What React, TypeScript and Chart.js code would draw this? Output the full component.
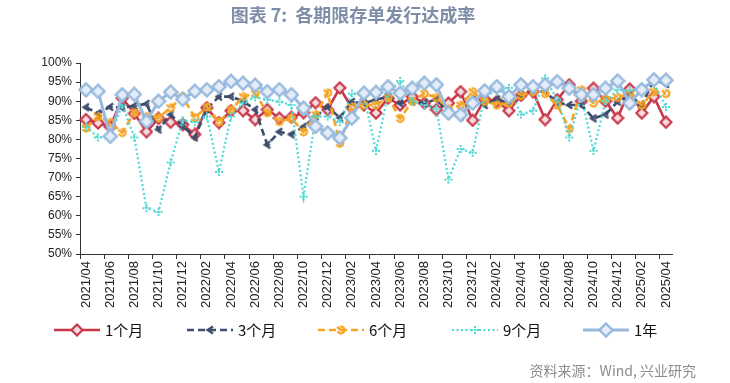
import React, { useEffect, useRef } from 'react';
import { Chart, registerables } from 'chart.js';

Chart.register(...registerables);

const labels = [
  '2021/04','2021/05','2021/06','2021/07','2021/08','2021/09','2021/10','2021/11','2021/12',
  '2022/01','2022/02','2022/03','2022/04','2022/05','2022/06','2022/07','2022/08','2022/09','2022/10','2022/11','2022/12',
  '2023/01','2023/02','2023/03','2023/04','2023/05','2023/06','2023/07','2023/08','2023/09','2023/10','2023/11','2023/12',
  '2024/01','2024/02','2024/03','2024/04','2024/05','2024/06','2024/07','2024/08','2024/09','2024/10','2024/11','2024/12',
  '2025/01','2025/02','2025/03','2025/04'
];

const m1 = [85.2,84.3,83.3,90.8,86.8,82.0,85.5,84.5,83.9,81.3,88.3,84.4,87.5,87.5,85.2,87.8,85.6,85.8,87.0,89.6,87.8,93.5,88.3,89.0,86.9,90.8,89.0,91.2,89.5,87.8,89.5,92.5,85.0,90.5,90.0,87.5,91.5,92.5,85.2,90.4,94.3,90.0,93.4,90.0,85.6,93.2,86.9,91.2,84.5];
const m3 = [88.4,86.8,88.5,88.3,88.8,89.3,82.6,86.5,83.5,80.5,88.0,91.2,91.2,90.0,87.8,78.6,82.0,81.3,83.3,86.0,88.5,85.7,89.8,89.5,90.4,91.2,89.5,89.9,89.5,90.5,87.0,86.0,90.4,89.0,90.5,89.5,91.5,92.5,92.5,89.6,89.0,89.0,85.5,86.5,89.9,91.5,89.0,95.6,94.5];
const m6 = [83.0,86.0,84.5,81.8,87.0,86.0,85.7,88.3,91.2,85.7,88.5,84.6,87.8,91.2,92.0,87.0,84.7,85.5,82.0,86.5,92.2,79.0,88.5,89.0,89.0,90.9,85.5,90.0,92.0,91.0,88.0,89.0,92.5,90.0,89.0,89.5,91.5,92.5,92.0,89.0,82.8,93.0,89.5,90.5,91.0,92.0,89.0,92.5,92.0];
const m9 = [83.3,80.5,80.7,89.0,80.5,62.0,61.0,74.0,85.0,84.5,86.0,71.5,86.0,89.6,91.0,90.4,89.9,89.0,65.0,86.0,86.0,84.5,92.0,91.5,77.0,92.0,95.3,90.0,89.0,88.0,69.5,77.5,76.5,91.5,92.5,93.5,86.5,87.5,96.0,90.4,80.5,91.2,77.0,90.0,93.0,92.8,93.8,94.7,88.5];
const y1 = [93.0,92.6,80.8,91.7,91.8,84.7,90.0,92.4,90.5,92.6,93.0,93.8,95.2,94.7,94.2,92.5,93.0,91.7,88.2,83.4,81.7,80.4,85.6,92.1,92.3,93.8,92.1,93.4,94.7,94.3,86.9,86.5,89.5,92.7,93.8,91.2,94.3,93.8,94.3,95.1,93.4,91.7,91.7,93.4,95.3,89.5,93.0,95.6,95.5];

const seriesNames = ['1个月', '3个月', '6个月', '9个月', '1年'];
const yTicks = [50, 55, 60, 65, 70, 75, 80, 85, 90, 95, 100];

const RED = '#C8384B';
const NAVY = '#3E4D6C';
const ORANGE = '#F5A424';
const CYAN = '#4FD8D4';
const LBLUE = '#97B9DE';

function mk(size: number, draw: (c: CanvasRenderingContext2D) => void) {
  const cv = document.createElement('canvas');
  cv.width = size; cv.height = size;
  const c = cv.getContext('2d')!;
  draw(c);
  return cv;
}

function makeMarkers() {
  const diamondRed = mk(14, (c) => {
    c.beginPath(); c.moveTo(7, 1.5); c.lineTo(12.5, 7); c.lineTo(7, 12.5); c.lineTo(1.5, 7); c.closePath();
    c.fillStyle = '#F6DCE0'; c.fill(); c.strokeStyle = RED; c.lineWidth = 2.2; c.stroke();
  });
  const diamondBlue = mk(16, (c) => {
    c.beginPath(); c.moveTo(8, 1.5); c.lineTo(14.5, 8); c.lineTo(8, 14.5); c.lineTo(1.5, 8); c.closePath();
    c.fillStyle = '#E3ECF7'; c.fill(); c.strokeStyle = LBLUE; c.lineWidth = 2.4; c.stroke();
  });
  const navyMark = mk(12, (c) => {
    c.strokeStyle = NAVY; c.lineWidth = 2.3; c.lineCap = 'butt';
    c.beginPath(); c.moveTo(9, 2.5); c.lineTo(3.5, 6); c.lineTo(9, 9.5); c.stroke();
    c.fillStyle = NAVY; c.fillRect(6.5, 5, 2.2, 2.2);
  });
  const orangeMark = mk(12, (c) => {
    c.strokeStyle = ORANGE; c.lineWidth = 2.3;
    c.beginPath(); c.arc(6, 6, 3.4, -Math.PI * 0.6, Math.PI * 0.9); c.stroke();
    c.beginPath(); c.moveTo(2, 3); c.lineTo(6, 6); c.stroke();
  });
  const cyanMark = mk(10, (c) => {
    c.fillStyle = CYAN;
    c.fillRect(4, 1, 2, 2); c.fillRect(4, 7, 2, 2); c.fillRect(1, 4, 2, 2); c.fillRect(7, 4, 2, 2); c.fillRect(4, 4, 2, 2);
  });
  return [diamondRed, navyMark, orangeMark, cyanMark, diamondBlue];
}

export default function App() {
  const ref = useRef<HTMLCanvasElement | null>(null);

  useEffect(() => {
    if (!ref.current) return;
    const markers = makeMarkers();
    const colors = [RED, NAVY, ORANGE, CYAN, LBLUE];
    const dashes: number[][] = [[], [7, 4], [7, 4], [2, 2.5], []];
    const widths = [2.6, 2.6, 2.6, 2.2, 3];
    const values = [m1, m3, m6, m9, y1];

    const overlay = {
      id: 'overlay',
      afterDraw(chart: any) {
        const c: CanvasRenderingContext2D = chart.ctx;
        c.save();
        // title
        c.fillStyle = '#7F8EA8';
        c.font = 'bold 18px "Noto Sans CJK SC", sans-serif';
        c.textAlign = 'center'; c.textBaseline = 'middle';
        c.fillText('图表 7:  各期限存单发行达成率', 353, 15);
        // source
        c.fillStyle = '#8C8C8C';
        c.font = '14px "Noto Sans CJK SC", sans-serif';
        c.textAlign = 'right';
        c.fillText('资料来源：Wind, 兴业研究', 696, 371);
        // legend
        const xs = [54, 187, 318, 452, 583];
        const ly = 330;
        for (let i = 0; i < 5; i++) {
          const x0 = xs[i];
          c.strokeStyle = colors[i];
          c.lineWidth = widths[i];
          c.setLineDash(dashes[i]);
          c.beginPath(); c.moveTo(x0, ly); c.lineTo(x0 + 46, ly); c.stroke();
          c.setLineDash([]);
          const mkc = markers[i];
          c.drawImage(mkc, x0 + 23 - mkc.width / 2, ly - mkc.height / 2);
          c.fillStyle = '#111';
          c.font = '15px "Noto Sans CJK SC", sans-serif';
          c.textAlign = 'left'; c.textBaseline = 'middle';
          c.fillText(seriesNames[i], x0 + 51, ly);
        }
        c.restore();
      },
    };

    const chart = new Chart(ref.current, {
      type: 'line',
      data: {
        labels,
        datasets: values.map((v, i) => ({
          label: seriesNames[i],
          data: v,
          borderColor: colors[i],
          backgroundColor: colors[i],
          borderWidth: widths[i],
          borderDash: dashes[i],
          pointStyle: markers[i] as any,
          pointRadius: 5,
          tension: 0,
          fill: false,
          order: 4 - i,
        })),
      },
      options: {
        responsive: false,
        animation: false,
        devicePixelRatio: 1,
        layout: { padding: { left: 0, top: 63, right: 58, bottom: 0 } },
        plugins: { legend: { display: false }, tooltip: { enabled: false }, title: { display: false } },
        scales: {
          x: {
            type: 'category',
            offset: true,
            afterFit: (s: any) => { s.height = 129; },
            grid: {
              offset: true,
              drawOnChartArea: false,
              drawTicks: true,
              tickLength: 5,
              color: (ctx: any) => (ctx.index % 2 === 0 ? '#333' : 'rgba(0,0,0,0)'),
            },
            border: { display: true, color: '#333', width: 1 },
            ticks: {
              autoSkip: false,
              maxRotation: 90,
              minRotation: 90,
              padding: 2,
              color: '#222',
              font: { size: 13, family: '"Liberation Sans", Arial, sans-serif' },
              callback: (_v: any, idx: number) => (idx % 2 === 0 ? labels[idx] : ''),
            },
          },
          y: {
            min: yTicks[0],
            max: yTicks[yTicks.length - 1],
            afterFit: (s: any) => { s.width = 80; },
            afterBuildTicks: (s: any) => { s.ticks = yTicks.map((v) => ({ value: v })); },
            grid: { drawOnChartArea: false, drawTicks: true, tickLength: 4, color: '#333' },
            border: { display: true, color: '#333', width: 1 },
            ticks: {
              padding: 4,
              color: '#222',
              font: { size: 12, family: '"Liberation Sans", Arial, sans-serif' },
              callback: (v: any) => v + '%',
            },
          },
        },
      },
      plugins: [overlay],
    });
    return () => chart.destroy();
  }, []);

  return (
    <div style={{ position: 'fixed', left: 0, top: 0, width: 730, height: 383, background: '#fff' }}>
      <canvas ref={ref} width={730} height={383} style={{ width: 730, height: 383 }} />
    </div>
  );
}
